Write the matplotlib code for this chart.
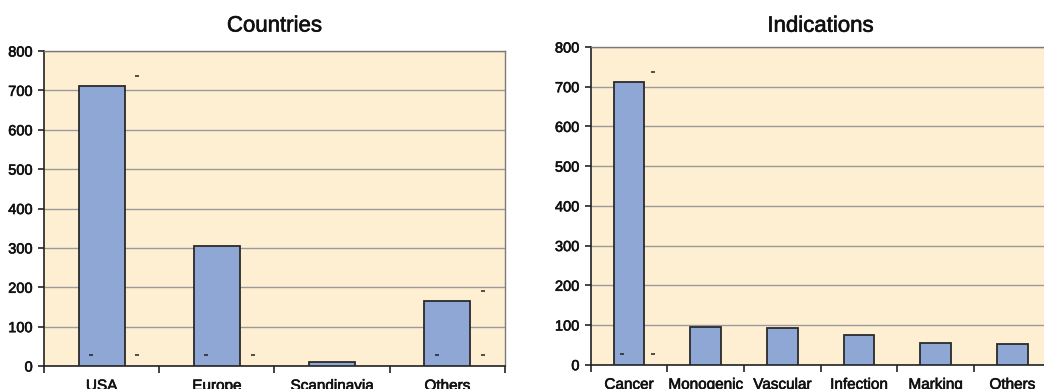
import matplotlib
matplotlib.use("Agg")
import matplotlib.pyplot as plt
import matplotlib.patheffects as pe
import numpy as np

plt.rcParams['font.family'] = ['Liberation Sans', 'DejaVu Sans']

# Number of trials by country
countries = ["USA", "Europe", "Scandinavia", "Others"]
country_counts = [712, 305, 11, 166]

# Number of trials by indication
indications = ["Cancer", "Monogenic", "Vascular", "Infection", "Marking", "Others"]
indication_counts = [712, 94, 92, 74, 54, 51]

# Stray marker dashes: (category index, x offset, value)
country_dashes = [(0, -0.09, 28), (0, 0.31, 28), (0, 0.31, 736),
                  (1, -0.09, 28), (1, 0.31, 28),
                  (3, -0.09, 28), (3, 0.31, 28), (3, 0.31, 191)]
indication_dashes = [(0, -0.09, 28), (0, 0.31, 28), (0, 0.31, 736)]

yticks = list(range(0, 801, 100))

BG = "#FEEFD2"
BAR = "#8FA7D5"
EDGE = "#2a2a2a"
GRID = "#9a9a9a"
TEXT = "#111111"
heavy = [pe.withStroke(linewidth=0.45, foreground=TEXT)]


def draw(ax, cats, vals, dashes, title, title_pad):
    n = len(cats)
    x = np.arange(n)
    ax.set_facecolor(BG)
    ax.bar(x, vals, width=0.4, color=BAR, edgecolor=EDGE, linewidth=1.3, zorder=3)
    for i, dx, v in dashes:
        ax.plot(i + dx, v, marker="_", color="#222222", markersize=2.2,
                markeredgewidth=1.1, zorder=4)
    ax.set_xlim(-0.5, n - 0.5)
    ax.set_ylim(0, 800)
    ax.set_yticks(yticks)
    ax.set_yticklabels([str(t) for t in yticks])
    ax.yaxis.grid(True, color=GRID, linewidth=1.0, zorder=1)
    ax.set_axisbelow(True)
    ax.set_xticks(x)
    ax.set_xticklabels(cats)
    ax.set_xticks(np.arange(n + 1) - 0.5, minor=True)
    ax.tick_params(axis="x", which="major", length=0, pad=9.5, labelsize=11,
                   labelcolor=TEXT)
    ax.tick_params(axis="x", which="minor", length=5, width=1.2, color="#222222",
                   direction="out")
    ax.tick_params(axis="y", length=4, width=1.2, color="#222222",
                   labelsize=10.5, pad=4, labelcolor=TEXT)
    for lab in ax.get_xticklabels() + ax.get_yticklabels():
        lab.set_path_effects(heavy)
    for s in ("left", "bottom"):
        ax.spines[s].set_color("#222222")
        ax.spines[s].set_linewidth(1.2)
    for s in ("top", "right"):
        ax.spines[s].set_color("#7a7a7a")
        ax.spines[s].set_linewidth(1.0)
    t = ax.set_title(title, fontsize=16, pad=title_pad, color=TEXT)
    t.set_path_effects(heavy)


fig = plt.figure(figsize=(10.44, 3.89), dpi=100)
ax1 = fig.add_axes([0.0421, 0.0591, 0.4416, 0.8098])
ax2 = fig.add_axes([0.5658, 0.0625, 0.4406, 0.8167])

draw(ax1, countries, country_counts, country_dashes, "Countries", 14)
draw(ax2, indications, indication_counts, indication_dashes, "Indications", 11)

fig.savefig("out.png", dpi=100, facecolor="white")
